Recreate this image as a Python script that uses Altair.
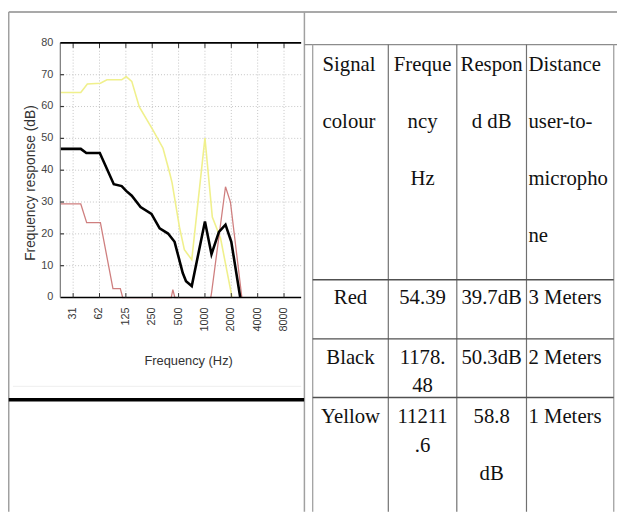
import altair as alt
import pandas as pd

# ---------------- chart data ----------------
x_tick_values = [31.25, 62.5, 125, 250, 500, 1000, 2000, 4000, 8000]
x_tick_labels = ["31", "62", "125", "250", "500", "1000", "2000", "4000", "8000"]
y_tick_values = [0, 10, 20, 30, 40, 50, 60, 70, 80]

yellow_freq = [22.3, 38.2, 45.4, 64, 76, 112, 126, 146, 178, 255, 332, 395, 421, 511, 582, 707, 1000, 1214, 1508, 2042]
yellow_db = [64.4, 64.4, 67.1, 67.3, 68.4, 68.4, 69.4, 67.9, 59.9, 52.6, 46.9, 39.2, 36.1, 22.2, 15.0, 11.9, 50.1, 25.3, 18.6, 0]

black_freq = [22.3, 38.2, 44.2, 63, 91, 112, 126, 146, 184, 245, 304, 379, 450, 558, 608, 707, 1000, 1188, 1444, 1717, 2000, 2530]
black_db = [46.7, 46.7, 45.4, 45.4, 35.6, 35.0, 33.5, 32.0, 28.4, 26.3, 21.7, 20.1, 17.5, 7.7, 5.1, 3.6, 23.9, 13.6, 20.6, 22.9, 17.5, 0]

red_freq = [22.3, 38.2, 44.6, 64, 89, 108, 115, 412, 430, 453, 1165, 1190, 1717, 1955, 2640]
red_db = [29.4, 29.4, 23.5, 23.5, 2.8, 2.8, 0, 0, 2.5, 0, 0, 1.5, 34.8, 30.0, 0]

# ---------------- table data ----------------
header_texts = ["Signal\ncolour", "Freque\nncy\nHz", "Respon\nd dB", "Distance\nuser-to-\nmicropho\nne"]
signal_colour = ["Red", "Black", "Yellow"]
frequency_hz = ["54.39", "1178.\n48", "11211\n.6"]
respond_db = ["39.7dB", "50.3dB", "58.8\n\ndB"]
distance = ["3 Meters", "2 Meters", "1 Meters"]

# ---------------- layout (pixels) ----------------
M = 8  # page margin
W, H = 625 - M, 515 - M
PX0, PX1 = 61 - M, 305 - M      # plot area x range
PY0, PY1 = 298 - M, 40 - M      # plot area y range (bottom, top)
X_DOMAIN = [22.3, 12550]
Y_DOMAIN = [0, 80]

SANS = "Liberation Sans, Arial, sans-serif"
SERIF = "Liberation Serif, Times New Roman, serif"

xscale = alt.Scale(type="log", base=2, domain=X_DOMAIN, range=[PX0, PX1], nice=False)
yscale = alt.Scale(type="linear", domain=Y_DOMAIN, range=[PY0, PY1], nice=False, zero=False)


def series_layer(fs, ds, color, width):
    df = pd.DataFrame({"freq": fs, "db": ds})
    return alt.Chart(df).mark_line(color=color, strokeWidth=width, interpolate="linear").encode(
        x=alt.X("freq:Q", scale=xscale, axis=None),
        y=alt.Y("db:Q", scale=yscale, axis=None),
        order=alt.Order("freq:Q"),
    )


yellow_line = series_layer(yellow_freq, yellow_db, "#f0f08c", 1.6)
red_line = series_layer(red_freq, red_db, "#cf7f7f", 1.3)
black_line = series_layer(black_freq, black_db, "#000000", 2.6)

xt_df = pd.DataFrame({"f": x_tick_values, "lab": x_tick_labels})
yt_df = pd.DataFrame({"v": y_tick_values, "lab": [str(v) for v in y_tick_values]})
yg_df = pd.DataFrame({"v": y_tick_values[1:-1]})

grid_v = alt.Chart(xt_df).mark_rule(color="#c4c4c4", strokeDash=[1, 2], strokeWidth=1).encode(
    x=alt.X("f:Q", scale=xscale, axis=None),
    y=alt.YDatum(Y_DOMAIN[0], scale=yscale, axis=None), y2=alt.datum(Y_DOMAIN[1]),
)
grid_h = alt.Chart(yg_df).mark_rule(color="#c4c4c4", strokeDash=[1, 2], strokeWidth=1).encode(
    y=alt.Y("v:Q", scale=yscale, axis=None),
    x=alt.XDatum(X_DOMAIN[0], scale=xscale, axis=None), x2=alt.datum(X_DOMAIN[1]),
)
ticks_bottom = alt.Chart(xt_df).mark_rule(color="#333333", strokeWidth=1).encode(
    x=alt.X("f:Q", scale=xscale, axis=None),
    y=alt.YDatum(0, scale=yscale, axis=None), y2=alt.datum(1.4),
)
ticks_top = alt.Chart(xt_df).mark_rule(color="#333333", strokeWidth=1).encode(
    x=alt.X("f:Q", scale=xscale, axis=None),
    y=alt.YDatum(80, scale=yscale, axis=None), y2=alt.datum(78.4),
)
ticks_left = alt.Chart(yg_df).mark_rule(color="#333333", strokeWidth=1.2).encode(
    y=alt.Y("v:Q", scale=yscale, axis=None),
    x=alt.XDatum(X_DOMAIN[0], scale=xscale, axis=None), x2=alt.datum(X_DOMAIN[0] * 1.1),
)
top_line = alt.Chart(pd.DataFrame({"v": [80]})).mark_rule(color="#000000", strokeWidth=1.6).encode(
    y=alt.Y("v:Q", scale=yscale, axis=None),
    x=alt.XDatum(X_DOMAIN[0], scale=xscale, axis=None), x2=alt.datum(X_DOMAIN[1]),
)
x_domain_line = alt.Chart(pd.DataFrame({"v": [0]})).mark_rule(color="#000000", strokeWidth=1.6).encode(
    y=alt.Y("v:Q", scale=yscale, axis=None),
    x=alt.XDatum(X_DOMAIN[0], scale=xscale, axis=None), x2=alt.datum(X_DOMAIN[1]),
)
y_domain_line = alt.Chart(pd.DataFrame({"v": [0]})).mark_rule(color="#777777", strokeWidth=1.2).encode(
    y=alt.Y("v:Q", scale=yscale, axis=None), y2=alt.datum(80),
    x=alt.XDatum(X_DOMAIN[0], scale=xscale, axis=None),
)
x_labels = alt.Chart(xt_df).mark_text(
    angle=270, align="right", baseline="middle", dx=-10, font=SANS, fontSize=11, color="#333333"
).encode(
    x=alt.X("f:Q", scale=xscale, axis=None),
    y=alt.YDatum(0, scale=yscale, axis=None),
    text="lab:N",
)
y_labels = alt.Chart(yt_df).mark_text(
    align="right", baseline="middle", dx=-7, font=SANS, fontSize=11, color="#444444"
).encode(
    y=alt.Y("v:Q", scale=yscale, axis=None),
    x=alt.XDatum(X_DOMAIN[0], scale=xscale, axis=None),
    text="lab:N",
)
x_title = alt.Chart(pd.DataFrame({"t": ["Frequency (Hz)"]})).mark_text(
    align="center", baseline="alphabetic", font=SANS, fontSize=13, color="#333333"
).encode(x=alt.value(191 - M), y=alt.value(366 - M), text="t:N")
y_title = alt.Chart(pd.DataFrame({"t": ["Frequency response (dB)"]})).mark_text(
    align="center", baseline="middle", angle=270, font=SANS, fontSize=14, color="#333333"
).encode(x=alt.value(31 - M), y=alt.value(182 - M), text="t:N")

# ---------------- frame / table lines ----------------
def sx(v):
    return max(v - M, 0.75)

COLS = [316.7, 393.3, 462.7, 533.3, 621.7]
ROW_LINES = [280, 340, 399.3]
frame = [
    (5.5, 5, 625, 5, "#8c8c8c", 1.5),
    (5.5, 5, 5.5, 515, "#a0a0a0", 1.5),
    (308.3, 5, 308.3, 515, "#a0a0a0", 1.5),
    (308.3, 41.7, 625, 41.7, "#8c8c8c", 1.3),
    (COLS[0], 41.7, COLS[0], 515, "#a0a0a0", 1.3),
    (COLS[4], 41.7, COLS[4], 515, "#a0a0a0", 1.3),
    (COLS[1], 41.7, COLS[1], 515, "#707070", 1.2),
    (COLS[2], 41.7, COLS[2], 515, "#707070", 1.2),
    (COLS[3], 41.7, COLS[3], 515, "#707070", 1.2),
    (13, 388, 305, 388, "#eeeeee", 1),
    (6, 401.5, 308, 401.5, "#000000", 3.5),
]
for ry in ROW_LINES:
    frame.append((COLS[0], ry, COLS[4], ry, "#505050", 1.3))
frame_df = pd.DataFrame(
    [{"x1": sx(a), "y1": sx(b), "x2": sx(c), "y2": sx(d), "c": col, "w": w} for a, b, c, d, col, w in frame]
)
frame_rules = alt.Chart(frame_df).mark_rule().encode(
    x=alt.X("x1:Q", scale=None, axis=None), x2="x2:Q",
    y=alt.Y("y1:Q", scale=None, axis=None), y2="y2:Q",
    color=alt.Color("c:N", scale=None), strokeWidth=alt.StrokeWidth("w:Q", scale=None),
)

# ---------------- table text ----------------
HEAD_BASE, HEAD_LH = 68, 58
ROW_BASES, ROW_LH = [305, 365, 425], 29
head_anchor = [(COLS[0] + 10, "left"), ((COLS[1] + COLS[2]) / 2, "center"),
               ((COLS[2] + COLS[3]) / 2, "center"), (COLS[3] + 2, "left")]
row_anchor = [((COLS[0] + COLS[1]) / 2, "center"), ((COLS[1] + COLS[2]) / 2, "center"),
              ((COLS[2] + COLS[3]) / 2, "center"), (COLS[3] + 2, "left")]

trows = []
for (ax, al), txt in zip(head_anchor, header_texts):
    for i, ln in enumerate(txt.split("\n")):
        if ln:
            trows.append({"x": ax - M, "y": HEAD_BASE + i * HEAD_LH - M, "t": ln, "a": al})
columns = [signal_colour, frequency_hz, respond_db, distance]
for ci, col in enumerate(columns):
    ax, al = row_anchor[ci]
    for ri, txt in enumerate(col):
        for i, ln in enumerate(txt.split("\n")):
            if ln:
                trows.append({"x": ax - M, "y": ROW_BASES[ri] + i * ROW_LH - M, "t": ln, "a": al})
text_df = pd.DataFrame(trows)


def text_layer(align):
    return alt.Chart(text_df[text_df["a"] == align]).mark_text(
        align=align, baseline="alphabetic", font=SERIF, fontSize=21, color="#111111"
    ).encode(
        x=alt.X("x:Q", scale=None, axis=None),
        y=alt.Y("y:Q", scale=None, axis=None),
        text="t:N",
    )


chart = alt.layer(
    grid_v, grid_h, yellow_line, red_line, black_line,
    x_domain_line, y_domain_line, ticks_bottom, ticks_top, ticks_left, top_line,
    x_labels, y_labels, x_title, y_title,
    frame_rules, text_layer("left"), text_layer("center"),
).properties(
    width=W, height=H, autosize=alt.AutoSizeParams(type="none"), padding=0, background="#ffffff",
).configure_view(stroke=None)

chart.save("out.html", embed_options={"renderer": "svg", "actions": False})
